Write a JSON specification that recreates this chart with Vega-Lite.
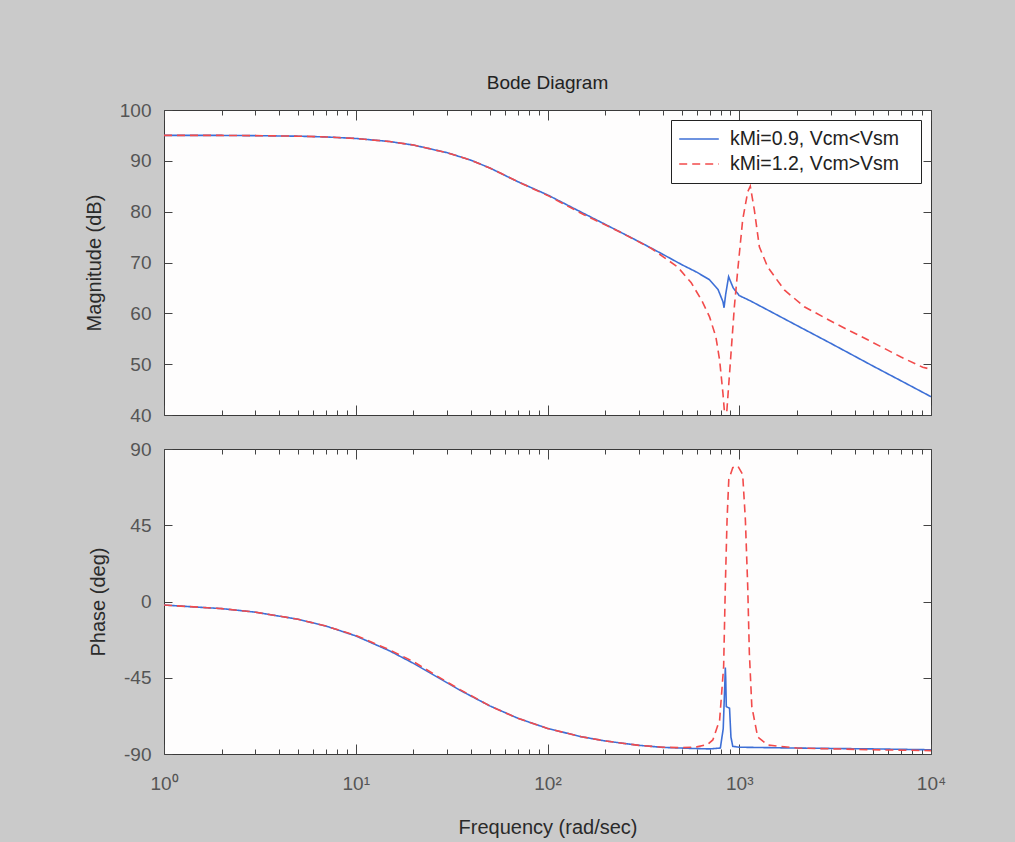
{
  "$schema": "https://vega.github.io/schema/vega-lite/v6.json",
  "background": "#cacaca",
  "padding": {"left": 83, "top": 73, "right": 85, "bottom": 5},
  "datasets": {
    "mag": [
      {"w":1,"v":95.0,"s":"kMi=0.9, Vcm<Vsm"},{"w":2,"v":95.0,"s":"kMi=0.9, Vcm<Vsm"},{"w":3,"v":94.95,"s":"kMi=0.9, Vcm<Vsm"},{"w":5,"v":94.85,"s":"kMi=0.9, Vcm<Vsm"},{"w":7,"v":94.7,"s":"kMi=0.9, Vcm<Vsm"},{"w":10,"v":94.4,"s":"kMi=0.9, Vcm<Vsm"},{"w":15,"v":93.8,"s":"kMi=0.9, Vcm<Vsm"},{"w":20,"v":93.1,"s":"kMi=0.9, Vcm<Vsm"},{"w":30,"v":91.6,"s":"kMi=0.9, Vcm<Vsm"},{"w":40,"v":90.1,"s":"kMi=0.9, Vcm<Vsm"},{"w":50,"v":88.6,"s":"kMi=0.9, Vcm<Vsm"},{"w":70,"v":85.9,"s":"kMi=0.9, Vcm<Vsm"},{"w":100,"v":83.3,"s":"kMi=0.9, Vcm<Vsm"},{"w":150,"v":79.9,"s":"kMi=0.9, Vcm<Vsm"},{"w":200,"v":77.5,"s":"kMi=0.9, Vcm<Vsm"},{"w":300,"v":74.1,"s":"kMi=0.9, Vcm<Vsm"},{"w":400,"v":71.6,"s":"kMi=0.9, Vcm<Vsm"},{"w":500,"v":69.6,"s":"kMi=0.9, Vcm<Vsm"},{"w":600,"v":68.1,"s":"kMi=0.9, Vcm<Vsm"},{"w":700,"v":66.6,"s":"kMi=0.9, Vcm<Vsm"},{"w":775,"v":64.7,"s":"kMi=0.9, Vcm<Vsm"},{"w":822,"v":62.3,"s":"kMi=0.9, Vcm<Vsm"},{"w":833,"v":61.1,"s":"kMi=0.9, Vcm<Vsm"},{"w":850,"v":63.8,"s":"kMi=0.9, Vcm<Vsm"},{"w":880,"v":67.2,"s":"kMi=0.9, Vcm<Vsm"},{"w":930,"v":65.0,"s":"kMi=0.9, Vcm<Vsm"},{"w":1000,"v":63.5,"s":"kMi=0.9, Vcm<Vsm"},{"w":1150,"v":62.4,"s":"kMi=0.9, Vcm<Vsm"},{"w":1500,"v":60.1,"s":"kMi=0.9, Vcm<Vsm"},{"w":2000,"v":57.6,"s":"kMi=0.9, Vcm<Vsm"},{"w":3000,"v":54.1,"s":"kMi=0.9, Vcm<Vsm"},{"w":5000,"v":49.6,"s":"kMi=0.9, Vcm<Vsm"},{"w":7000,"v":46.7,"s":"kMi=0.9, Vcm<Vsm"},{"w":10000,"v":43.6,"s":"kMi=0.9, Vcm<Vsm"},
      {"w":1,"v":95.0,"s":"kMi=1.2, Vcm>Vsm"},{"w":2,"v":95.0,"s":"kMi=1.2, Vcm>Vsm"},{"w":3,"v":94.95,"s":"kMi=1.2, Vcm>Vsm"},{"w":5,"v":94.85,"s":"kMi=1.2, Vcm>Vsm"},{"w":7,"v":94.7,"s":"kMi=1.2, Vcm>Vsm"},{"w":10,"v":94.4,"s":"kMi=1.2, Vcm>Vsm"},{"w":15,"v":93.8,"s":"kMi=1.2, Vcm>Vsm"},{"w":20,"v":93.1,"s":"kMi=1.2, Vcm>Vsm"},{"w":30,"v":91.6,"s":"kMi=1.2, Vcm>Vsm"},{"w":40,"v":90.1,"s":"kMi=1.2, Vcm>Vsm"},{"w":50,"v":88.6,"s":"kMi=1.2, Vcm>Vsm"},{"w":70,"v":85.9,"s":"kMi=1.2, Vcm>Vsm"},{"w":100,"v":83.2,"s":"kMi=1.2, Vcm>Vsm"},{"w":155,"v":79.4,"s":"kMi=1.2, Vcm>Vsm"},{"w":230,"v":76.3,"s":"kMi=1.2, Vcm>Vsm"},{"w":347,"v":72.8,"s":"kMi=1.2, Vcm>Vsm"},{"w":478,"v":69.1,"s":"kMi=1.2, Vcm>Vsm"},{"w":562,"v":66.0,"s":"kMi=1.2, Vcm>Vsm"},{"w":636,"v":62.6,"s":"kMi=1.2, Vcm>Vsm"},{"w":700,"v":59.3,"s":"kMi=1.2, Vcm>Vsm"},{"w":755,"v":55.4,"s":"kMi=1.2, Vcm>Vsm"},{"w":790,"v":50.8,"s":"kMi=1.2, Vcm>Vsm"},{"w":822,"v":44.3,"s":"kMi=1.2, Vcm>Vsm"},{"w":838,"v":40.4,"s":"kMi=1.2, Vcm>Vsm"},{"w":848,"v":25,"s":"kMi=1.2, Vcm>Vsm"},{"w":860,"v":40.4,"s":"kMi=1.2, Vcm>Vsm"},{"w":906,"v":52.2,"s":"kMi=1.2, Vcm>Vsm"},{"w":943,"v":61.3,"s":"kMi=1.2, Vcm>Vsm"},{"w":982,"v":68.5,"s":"kMi=1.2, Vcm>Vsm"},{"w":1042,"v":78.4,"s":"kMi=1.2, Vcm>Vsm"},{"w":1107,"v":83.9,"s":"kMi=1.2, Vcm>Vsm"},{"w":1142,"v":85.0,"s":"kMi=1.2, Vcm>Vsm"},{"w":1198,"v":80.4,"s":"kMi=1.2, Vcm>Vsm"},{"w":1273,"v":73.1,"s":"kMi=1.2, Vcm>Vsm"},{"w":1407,"v":69.1,"s":"kMi=1.2, Vcm>Vsm"},{"w":1718,"v":64.6,"s":"kMi=1.2, Vcm>Vsm"},{"w":2184,"v":61.3,"s":"kMi=1.2, Vcm>Vsm"},{"w":3133,"v":58.1,"s":"kMi=1.2, Vcm>Vsm"},{"w":4677,"v":54.8,"s":"kMi=1.2, Vcm>Vsm"},{"w":6973,"v":51.4,"s":"kMi=1.2, Vcm>Vsm"},{"w":9056,"v":49.4,"s":"kMi=1.2, Vcm>Vsm"},{"w":10000,"v":49.0,"s":"kMi=1.2, Vcm>Vsm"}
    ],
    "phase": [
      {"w":1,"v":-2.1,"s":"kMi=0.9, Vcm<Vsm"},{"w":2,"v":-4.2,"s":"kMi=0.9, Vcm<Vsm"},{"w":3,"v":-6.3,"s":"kMi=0.9, Vcm<Vsm"},{"w":5,"v":-10.5,"s":"kMi=0.9, Vcm<Vsm"},{"w":7,"v":-14.5,"s":"kMi=0.9, Vcm<Vsm"},{"w":10,"v":-20.3,"s":"kMi=0.9, Vcm<Vsm"},{"w":15,"v":-29.1,"s":"kMi=0.9, Vcm<Vsm"},{"w":20,"v":-36.5,"s":"kMi=0.9, Vcm<Vsm"},{"w":27,"v":-45,"s":"kMi=0.9, Vcm<Vsm"},{"w":35,"v":-52.4,"s":"kMi=0.9, Vcm<Vsm"},{"w":50,"v":-61.6,"s":"kMi=0.9, Vcm<Vsm"},{"w":70,"v":-68.9,"s":"kMi=0.9, Vcm<Vsm"},{"w":100,"v":-74.9,"s":"kMi=0.9, Vcm<Vsm"},{"w":150,"v":-79.8,"s":"kMi=0.9, Vcm<Vsm"},{"w":200,"v":-82.3,"s":"kMi=0.9, Vcm<Vsm"},{"w":300,"v":-84.9,"s":"kMi=0.9, Vcm<Vsm"},{"w":400,"v":-86.1,"s":"kMi=0.9, Vcm<Vsm"},{"w":500,"v":-86.5,"s":"kMi=0.9, Vcm<Vsm"},{"w":600,"v":-86.8,"s":"kMi=0.9, Vcm<Vsm"},{"w":700,"v":-87.0,"s":"kMi=0.9, Vcm<Vsm"},{"w":797,"v":-86.5,"s":"kMi=0.9, Vcm<Vsm"},{"w":825,"v":-75,"s":"kMi=0.9, Vcm<Vsm"},{"w":840,"v":-50,"s":"kMi=0.9, Vcm<Vsm"},{"w":846,"v":-39,"s":"kMi=0.9, Vcm<Vsm"},{"w":850,"v":-45,"s":"kMi=0.9, Vcm<Vsm"},{"w":856,"v":-62,"s":"kMi=0.9, Vcm<Vsm"},{"w":890,"v":-63,"s":"kMi=0.9, Vcm<Vsm"},{"w":905,"v":-80,"s":"kMi=0.9, Vcm<Vsm"},{"w":925,"v":-85.5,"s":"kMi=0.9, Vcm<Vsm"},{"w":1000,"v":-86,"s":"kMi=0.9, Vcm<Vsm"},{"w":2000,"v":-86.5,"s":"kMi=0.9, Vcm<Vsm"},{"w":5000,"v":-87,"s":"kMi=0.9, Vcm<Vsm"},{"w":10000,"v":-87.5,"s":"kMi=0.9, Vcm<Vsm"},
      {"w":1,"v":-2.1,"s":"kMi=1.2, Vcm>Vsm"},{"w":2,"v":-4.2,"s":"kMi=1.2, Vcm>Vsm"},{"w":3,"v":-6.3,"s":"kMi=1.2, Vcm>Vsm"},{"w":5,"v":-10.5,"s":"kMi=1.2, Vcm>Vsm"},{"w":7,"v":-14.5,"s":"kMi=1.2, Vcm>Vsm"},{"w":10,"v":-20.0,"s":"kMi=1.2, Vcm>Vsm"},{"w":15,"v":-28.5,"s":"kMi=1.2, Vcm>Vsm"},{"w":20,"v":-35.5,"s":"kMi=1.2, Vcm>Vsm"},{"w":27,"v":-44.5,"s":"kMi=1.2, Vcm>Vsm"},{"w":35,"v":-52,"s":"kMi=1.2, Vcm>Vsm"},{"w":50,"v":-61.6,"s":"kMi=1.2, Vcm>Vsm"},{"w":70,"v":-68.9,"s":"kMi=1.2, Vcm>Vsm"},{"w":100,"v":-74.9,"s":"kMi=1.2, Vcm>Vsm"},{"w":150,"v":-79.8,"s":"kMi=1.2, Vcm>Vsm"},{"w":200,"v":-82.3,"s":"kMi=1.2, Vcm>Vsm"},{"w":300,"v":-84.9,"s":"kMi=1.2, Vcm>Vsm"},{"w":400,"v":-86,"s":"kMi=1.2, Vcm>Vsm"},{"w":500,"v":-86.3,"s":"kMi=1.2, Vcm>Vsm"},{"w":600,"v":-85.8,"s":"kMi=1.2, Vcm>Vsm"},{"w":680,"v":-84.5,"s":"kMi=1.2, Vcm>Vsm"},{"w":728,"v":-81.7,"s":"kMi=1.2, Vcm>Vsm"},{"w":790,"v":-70,"s":"kMi=1.2, Vcm>Vsm"},{"w":829,"v":-38.5,"s":"kMi=1.2, Vcm>Vsm"},{"w":846,"v":8.9,"s":"kMi=1.2, Vcm>Vsm"},{"w":864,"v":48.6,"s":"kMi=1.2, Vcm>Vsm"},{"w":882,"v":72,"s":"kMi=1.2, Vcm>Vsm"},{"w":925,"v":79,"s":"kMi=1.2, Vcm>Vsm"},{"w":982,"v":80,"s":"kMi=1.2, Vcm>Vsm"},{"w":1042,"v":75,"s":"kMi=1.2, Vcm>Vsm"},{"w":1076,"v":48.6,"s":"kMi=1.2, Vcm>Vsm"},{"w":1107,"v":8.9,"s":"kMi=1.2, Vcm>Vsm"},{"w":1129,"v":-30.4,"s":"kMi=1.2, Vcm>Vsm"},{"w":1163,"v":-62,"s":"kMi=1.2, Vcm>Vsm"},{"w":1248,"v":-80,"s":"kMi=1.2, Vcm>Vsm"},{"w":1407,"v":-84.7,"s":"kMi=1.2, Vcm>Vsm"},{"w":2000,"v":-86.5,"s":"kMi=1.2, Vcm>Vsm"},{"w":5000,"v":-87.5,"s":"kMi=1.2, Vcm>Vsm"},{"w":10000,"v":-88,"s":"kMi=1.2, Vcm>Vsm"}
    ]
  },
  "config": {
    "font": "Liberation Sans",
    "view": {"stroke": "#3a3a3a", "strokeWidth": 1, "fill": "#fefdfd"},
    "axis": {
      "labelFont": "Liberation Sans", "labelFontSize": 19, "labelColor": "#555555",
      "titleFont": "Liberation Sans", "titleFontSize": 20, "titleFontWeight": "normal", "titleColor": "#2a2a2a",
      "domain": false, "grid": false, "tickColor": "#444444", "tickWidth": 1
    }
  },
  "bounds": "flush",
  "spacing": 34,
  "resolve": {"scale": {"color": "independent", "strokeDash": "independent"}, "legend": {"color": "independent", "strokeDash": "independent"}},
  "vconcat": [
    {
      "width": 767, "height": 305,
      "title": {"text": "Bode Diagram", "fontSize": 19, "fontWeight": "normal", "color": "#222222", "font": "Liberation Sans", "offset": 8},
      "data": {"name": "mag"},
      "layer": [
        {
          "mark": {"type": "line", "clip": true, "strokeWidth": 1.6},
          "encoding": {
            "x": {"field": "w", "type": "quantitative", "scale": {"type": "log", "domain": [1, 10000], "nice": false},
              "axis": {"orient": "bottom", "title": null, "labels": false, "labelOverlap": false,
                "values": [1,2,3,4,5,6,7,8,9,10,20,30,40,50,60,70,80,90,100,200,300,400,500,600,700,800,900,1000,2000,3000,4000,5000,6000,7000,8000,9000,10000],
                "tickSize": {"condition": {"test": "indexof([1,10,100,1000,10000], datum.value) >= 0", "value": -10}, "value": -5}}},
            "y": {"field": "v", "type": "quantitative", "scale": {"domain": [40, 100], "nice": false, "zero": false},
              "axis": {"orient": "left", "title": "Magnitude (dB)", "values": [40,50,60,70,80,90,100], "tickSize": -8, "labelPadding": 21, "titlePadding": 15}},
            "color": {"field": "s", "type": "nominal", "scale": {"domain": ["kMi=0.9, Vcm<Vsm", "kMi=1.2, Vcm>Vsm"], "range": ["#3d6fd6", "#f24b4b"]},
              "legend": {"title": "\u00a0", "titleOrient": "right", "titlePadding": 13, "titleFontSize": 4, "orient": "top-right", "offset": 10, "fillColor": "#ffffff", "strokeColor": "#222222", "padding": 9, "symbolType": "M-2.2,0H2.2", "symbolSize": 324, "symbolOffset": 9, "symbolFillColor": "transparent", "symbolStrokeWidth": 1.6, "labelFontSize": 19.5, "labelLimit": 400, "labelColor": "#222222", "labelFont": "Liberation Sans", "labelOffset": 21, "rowPadding": 5}},
            "strokeDash": {"field": "s", "type": "nominal", "scale": {"domain": ["kMi=0.9, Vcm<Vsm", "kMi=1.2, Vcm>Vsm"], "range": [[1, 0], [8, 5]]},
              "legend": {"title": "\u00a0", "titleOrient": "right", "titlePadding": 13, "titleFontSize": 4, "orient": "top-right", "offset": 10, "fillColor": "#ffffff", "strokeColor": "#222222", "padding": 9, "symbolType": "M-2.2,0H2.2", "symbolSize": 324, "symbolOffset": 9, "symbolFillColor": "transparent", "symbolStrokeWidth": 1.6, "labelFontSize": 19.5, "labelLimit": 400, "labelColor": "#222222", "labelFont": "Liberation Sans", "labelOffset": 21, "rowPadding": 5}}
          }
        },
        {
          "mark": {"type": "point", "opacity": 0},
          "encoding": {
            "x": {"field": "w", "type": "quantitative", "scale": {"type": "log", "domain": [1, 10000], "nice": false},
              "axis": {"orient": "top", "title": null, "labels": false,
                "values": [1,2,3,4,5,6,7,8,9,10,20,30,40,50,60,70,80,90,100,200,300,400,500,600,700,800,900,1000,2000,3000,4000,5000,6000,7000,8000,9000,10000],
                "tickSize": {"condition": {"test": "indexof([1,10,100,1000,10000], datum.value) >= 0", "value": -10}, "value": -5}}},
            "y": {"field": "v", "type": "quantitative", "scale": {"domain": [40, 100], "nice": false, "zero": false},
              "axis": {"orient": "right", "title": null, "labels": false, "values": [40,50,60,70,80,90,100], "tickSize": -8}}
          }
        }
      ],
      "resolve": {"axis": {"x": "independent", "y": "independent"}}
    },
    {
      "width": 767, "height": 305,
      "data": {"name": "phase"},
      "layer": [
        {
          "mark": {"type": "line", "clip": true, "strokeWidth": 1.6},
          "encoding": {
            "x": {"field": "w", "type": "quantitative", "scale": {"type": "log", "domain": [1, 10000], "nice": false},
              "axis": {"orient": "bottom", "title": "Frequency (rad/sec)", "labelOverlap": false, "labelFlush": false, "labelPadding": 30, "titlePadding": 19,
                "values": [1,2,3,4,5,6,7,8,9,10,20,30,40,50,60,70,80,90,100,200,300,400,500,600,700,800,900,1000,2000,3000,4000,5000,6000,7000,8000,9000,10000],
                "labelExpr": "datum.value == 1 ? '10⁰' : datum.value == 10 ? '10¹' : datum.value == 100 ? '10²' : datum.value == 1000 ? '10³' : datum.value == 10000 ? '10⁴' : ''",
                "tickSize": {"condition": {"test": "indexof([1,10,100,1000,10000], datum.value) >= 0", "value": -10}, "value": -5}}},
            "y": {"field": "v", "type": "quantitative", "scale": {"domain": [-90, 90], "nice": false, "zero": false},
              "axis": {"orient": "left", "title": "Phase (deg)", "values": [-90,-45,0,45,90], "labelExpr": "'' + datum.value", "tickSize": -8, "labelPadding": 21, "titlePadding": 15}},
            "color": {"field": "s", "type": "nominal", "scale": {"domain": ["kMi=0.9, Vcm<Vsm", "kMi=1.2, Vcm>Vsm"], "range": ["#3d6fd6", "#f24b4b"]}, "legend": null},
            "strokeDash": {"field": "s", "type": "nominal", "scale": {"domain": ["kMi=0.9, Vcm<Vsm", "kMi=1.2, Vcm>Vsm"], "range": [[1, 0], [8, 5]]}, "legend": null}
          }
        },
        {
          "mark": {"type": "point", "opacity": 0},
          "encoding": {
            "x": {"field": "w", "type": "quantitative", "scale": {"type": "log", "domain": [1, 10000], "nice": false},
              "axis": {"orient": "top", "title": null, "labels": false,
                "values": [1,2,3,4,5,6,7,8,9,10,20,30,40,50,60,70,80,90,100,200,300,400,500,600,700,800,900,1000,2000,3000,4000,5000,6000,7000,8000,9000,10000],
                "tickSize": {"condition": {"test": "indexof([1,10,100,1000,10000], datum.value) >= 0", "value": -10}, "value": -5}}},
            "y": {"field": "v", "type": "quantitative", "scale": {"domain": [-90, 90], "nice": false, "zero": false},
              "axis": {"orient": "right", "title": null, "labels": false, "values": [-90,-45,0,45,90], "tickSize": -8}}
          }
        }
      ],
      "resolve": {"axis": {"x": "independent", "y": "independent"}}
    }
  ]
}
